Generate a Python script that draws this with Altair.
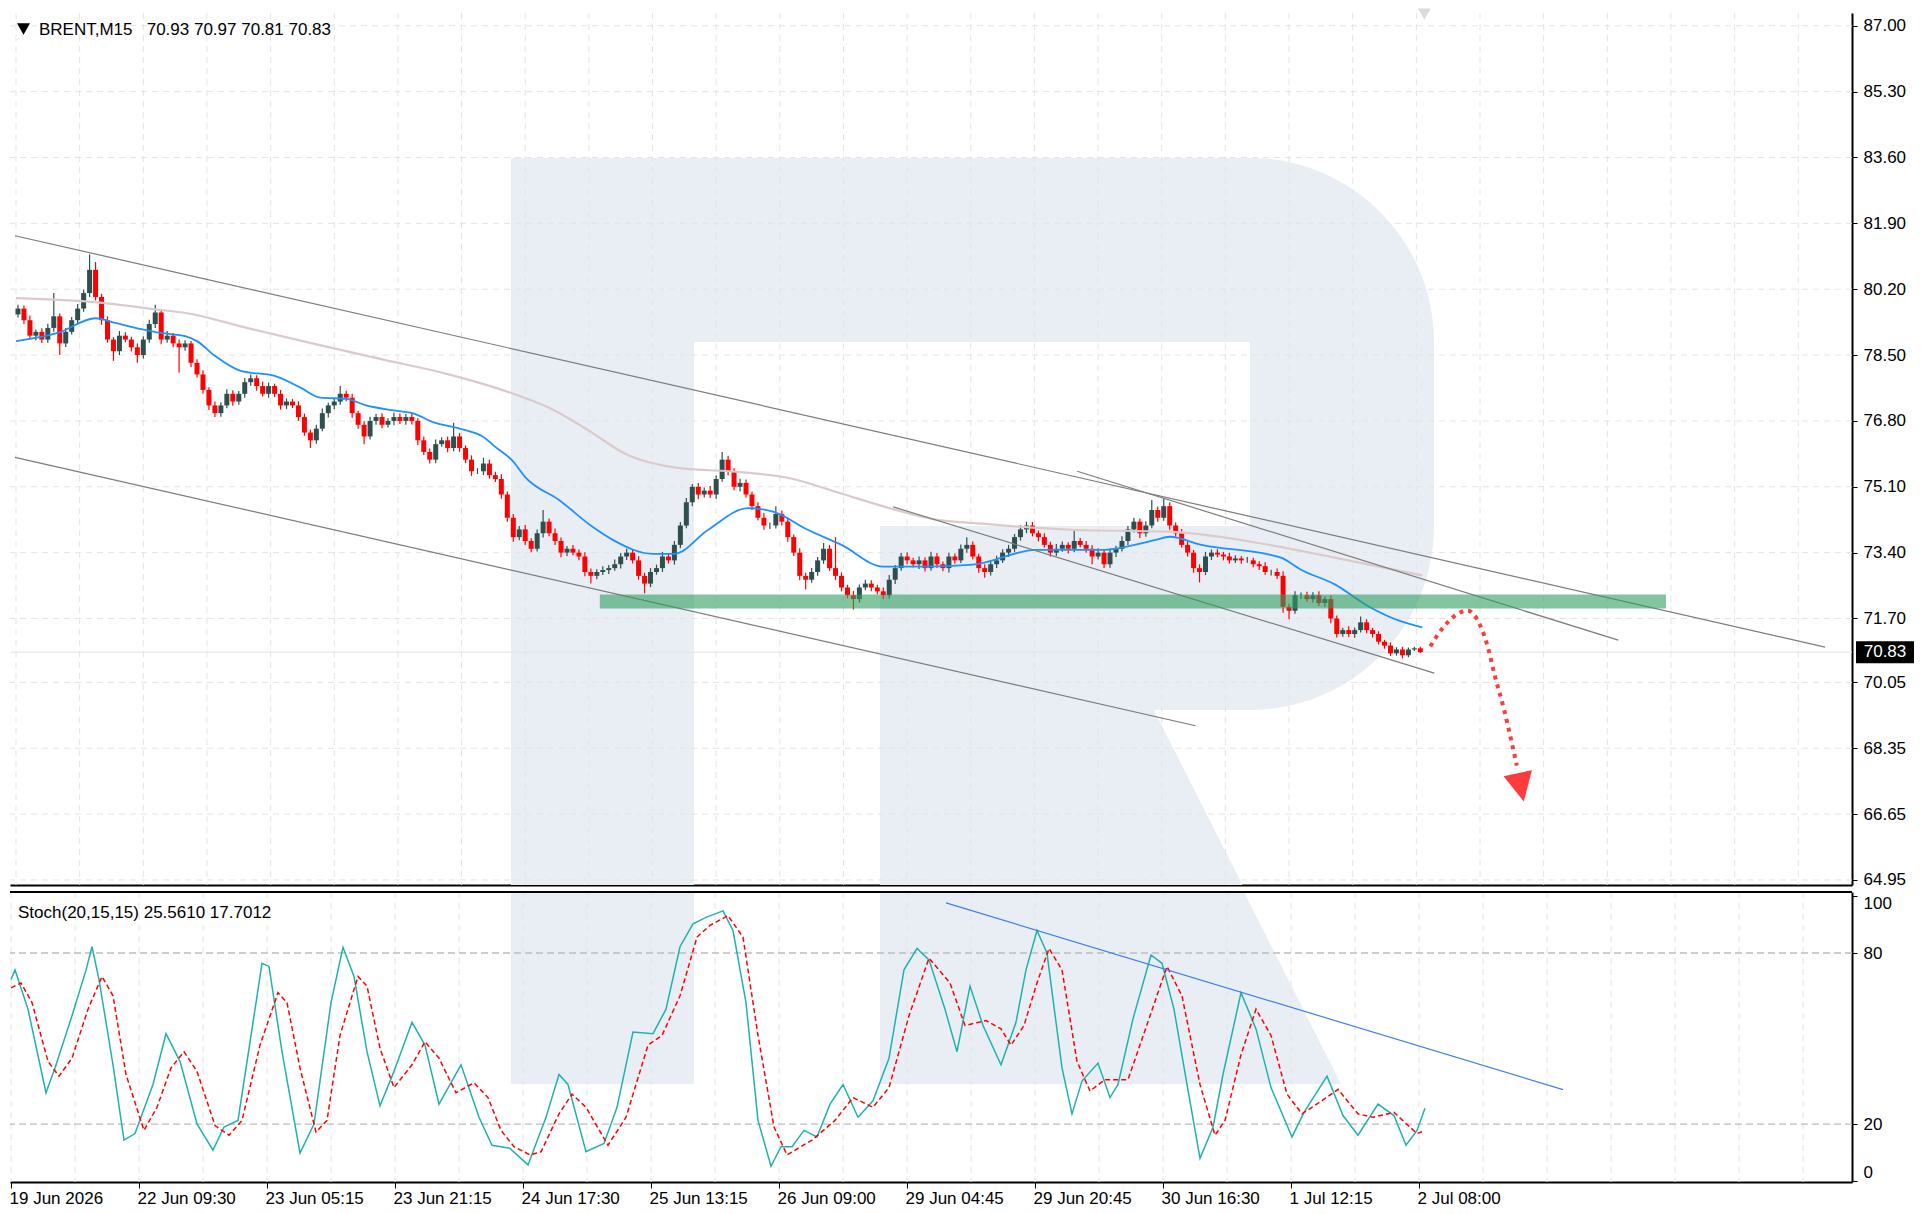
import json
import altair as alt
import pandas as pd

# ------------------------------------------------------------------ data
title_text = "BRENT,M15\u00a0\u00a0 70.93 70.97 70.81 70.83"
stoch_text = "Stoch(20,15,15) 25.5610 17.7012"

bars_per_candle = 3
first_open = 79.55
closes = [
    79.70, 79.40, 79.00, 79.10, 78.90, 79.20, 79.50, 78.80, 79.10, 79.40, 79.70, 80.10,
    80.70, 80.00, 79.40, 78.90, 78.60, 79.00, 78.90, 78.70, 78.50, 78.90, 79.30, 79.60,
    78.90, 79.00, 78.80, 78.70, 78.80, 78.30, 78.00, 77.60, 77.20, 77.00, 77.20, 77.50,
    77.30, 77.50, 77.80, 77.90, 77.70, 77.50, 77.70, 77.50, 77.20, 77.30, 77.20, 76.90,
    76.50, 76.30, 76.60, 77.00, 77.20, 77.30, 77.50, 77.40, 77.00, 76.70, 76.40, 76.80,
    76.90, 76.70, 76.80, 76.90, 76.80, 76.90, 76.80, 76.30, 76.00, 75.80, 76.20, 76.30,
    76.10, 76.40, 76.10, 75.80, 75.50, 75.50, 75.70, 75.40, 75.30, 74.90, 74.30, 73.80,
    74.00, 73.70, 73.50, 73.90, 74.20, 73.90, 73.70, 73.40, 73.50, 73.40, 73.30, 72.90,
    72.80, 72.90, 72.95, 73.00, 73.10, 73.30, 73.40, 73.20, 72.80, 72.60, 72.90, 73.00,
    73.30, 73.20, 73.60, 74.10, 74.70, 75.10, 74.90, 75.00, 74.90, 75.30, 75.80, 75.50,
    75.10, 75.20, 74.90, 74.60, 74.30, 74.10, 74.10, 74.40, 74.20, 73.80, 73.40, 72.80,
    72.70, 72.90, 73.20, 73.50, 73.00, 72.80, 72.50, 72.30, 72.20, 72.50, 72.60, 72.50,
    72.40, 72.30, 72.70, 73.00, 73.30, 73.20, 73.10, 73.20, 73.00, 73.30, 73.10, 73.00,
    73.30, 73.20, 73.50, 73.60, 73.30, 73.00, 72.90, 73.10, 73.20, 73.40, 73.50, 73.80,
    74.00, 74.10, 73.90, 73.80, 73.60, 73.40, 73.50, 73.60, 73.50, 73.70, 73.60, 73.50,
    73.30, 73.40, 73.10, 73.40, 73.50, 73.70, 74.00, 74.20, 73.90, 74.10, 74.50, 74.30,
    74.60, 74.10, 73.90, 73.60, 73.40, 73.00, 72.90, 73.30, 73.40, 73.35, 73.30, 73.20,
    73.25, 73.20, 73.20, 73.10, 73.05, 72.90, 72.90, 72.80, 72.00, 71.90, 72.30, 72.30,
    72.20, 72.30, 72.10, 72.20, 71.70, 71.30, 71.40, 71.30, 71.40, 71.60, 71.40, 71.30,
    71.10, 71.00, 70.80, 70.90, 70.75, 70.90, 70.93, 70.83,
]
# upper / lower wick length beyond the body, in cents
wick_up = [
    10, 8, 12, 6, 9, 11, 60, 7, 10, 8, 12, 9,
    40, 20, 8, 10, 6, 12, 9, 7, 10, 8, 11, 20,
    9, 12, 7, 10, 8, 6, 9, 11, 7, 10, 8, 12,
    9, 7, 11, 10, 8, 12, 9, 6, 10, 8, 7, 11,
    9, 8, 10, 12, 7, 9, 20, 8, 10, 6, 9, 11,
    8, 10, 7, 12, 9, 8, 11, 7, 10, 9, 12, 8,
    10, 35, 9, 7, 11, 8, 15, 10, 9, 12, 8, 10,
    9, 11, 7, 10, 30, 8, 12, 9, 7, 10, 8, 11,
    9, 7, 10, 8, 12, 9, 10, 7, 11, 8, 10, 9,
    12, 8, 10, 9, 11, 7, 10, 8, 12, 9, 20, 10,
    8, 11, 9, 7, 10, 12, 8, 20, 9, 10, 7, 11,
    8, 10, 9, 15, 10, 80, 9, 7, 11, 8, 10, 9,
    7, 10, 12, 8, 9, 11, 7, 10, 8, 12, 9, 7,
    10, 8, 11, 20, 9, 7, 10, 8, 12, 9, 10, 8,
    11, 10, 9, 7, 10, 8, 12, 9, 7, 30, 8, 10,
    9, 11, 7, 10, 8, 12, 9, 10, 8, 11, 26, 9,
    20, 10, 8, 11, 9, 7, 10, 12, 8, 9, 7, 10,
    8, 6, 9, 7, 8, 10, 6, 9, 12, 8, 10, 7,
    9, 8, 10, 7, 9, 8, 6, 10, 7, 15, 8, 6,
    7, 5, 8, 6, 7, 5, 4, 4,
]
wick_dn = [
    8, 10, 7, 12, 9, 8, 10, 30, 9, 7, 11, 8,
    10, 9, 12, 8, 25, 10, 7, 11, 20, 9, 8, 10,
    12, 8, 10, 65, 9, 11, 8, 10, 12, 10, 9, 7,
    11, 8, 10, 9, 12, 7, 10, 8, 11, 9, 7, 10,
    8, 20, 9, 7, 11, 10, 8, 9, 12, 10, 20, 8,
    10, 9, 7, 11, 8, 10, 9, 12, 8, 10, 9, 7,
    11, 8, 10, 9, 12, 7, 10, 9, 8, 11, 10, 12,
    8, 10, 9, 7, 11, 8, 10, 12, 9, 7, 10, 11,
    20, 9, 8, 10, 7, 11, 9, 8, 10, 25, 9, 7,
    10, 8, 11, 9, 7, 10, 12, 8, 9, 11, 7, 10,
    9, 12, 8, 10, 7, 11, 9, 8, 10, 12, 9, 11,
    25, 8, 10, 9, 7, 11, 10, 8, 27, 9, 7, 10,
    8, 10, 9, 11, 7, 10, 8, 12, 9, 7, 10, 8,
    11, 9, 7, 10, 8, 12, 15, 9, 10, 7, 11, 8,
    9, 10, 8, 11, 7, 10, 9, 8, 12, 9, 7, 10,
    20, 8, 10, 9, 11, 7, 10, 8, 12, 9, 7, 10,
    8, 11, 9, 7, 10, 12, 27, 8, 9, 7, 10, 8,
    7, 9, 6, 8, 10, 7, 9, 8, 15, 22, 8, 10,
    7, 9, 8, 10, 12, 9, 7, 8, 10, 6, 8, 9,
    7, 8, 7, 6, 8, 5, 4, 2,
]

ma_fast_bar = [0, 21, 40, 50, 63, 73, 85, 91, 100, 113, 130, 143, 153, 166, 176, 190,
               200, 210, 223, 236, 240, 250, 256, 273, 290, 300, 320, 331, 348, 368, 381,
               398, 415, 436, 456, 481, 513, 546, 573, 580, 596, 630, 636, 646, 663, 680,
               696, 707]
ma_fast_val = [78.86, 79.07, 79.45, 79.33, 79.17, 79.07, 78.99, 78.86, 78.48, 78.09, 77.96,
               77.66, 77.40, 77.37, 77.20, 77.07, 76.99, 76.76, 76.60, 76.35, 76.17, 75.75,
               75.35, 74.76, 74.06, 73.73, 73.37, 73.37, 73.99, 74.55, 74.45, 73.99, 73.60,
               73.04, 73.04, 73.09, 73.47, 73.47, 73.73, 73.81, 73.60, 73.35, 73.27, 72.96,
               72.58, 72.01, 71.63, 71.47]
ma_slow_bar = [0, 41, 70, 86, 116, 150, 183, 216, 250, 270, 288, 306, 334, 364, 389, 414,
               439, 464, 480, 530, 580, 630, 663, 707]
ma_slow_val = [79.97, 79.86, 79.68, 79.58, 79.20, 78.79, 78.40, 78.02, 77.50, 77.09, 76.55,
               75.96, 75.58, 75.48, 75.32, 74.94, 74.55, 74.24, 74.17, 73.99, 73.94, 73.60,
               73.27, 72.81]

stoch_k_bar = [0, 2, 8.5, 17.5, 22, 30.5, 37.5, 40.5, 44, 51, 56.5, 62, 71, 77.5, 84.5, 93,
               101, 106.5, 113.5, 120, 125.5, 129, 135.5, 144.5, 151.5, 160, 166, 171.5, 178,
               184.5, 191.5, 200.5, 207, 214, 225, 234, 240.5, 249.5, 258.5, 267.5, 274,
               278.5, 287.5, 296.5, 303, 311, 321, 327.5, 334.5, 341, 347.5, 356, 361, 367.5,
               373.5, 380, 385, 390.5, 396.5, 403, 409.5, 416, 423.5, 431, 439, 446.5, 453,
               459, 467, 473, 479.5, 486, 495, 502.5, 507.5, 513, 518, 525.5, 530.5, 535.5,
               543.5, 549.5, 553.5, 561, 570, 575.5, 581.5, 588, 594.5, 601, 606, 615, 622.5,
               630, 640.5, 646.5, 658, 666, 673.5, 683.5, 691.5, 697.5, 703, 707]
stoch_k_val = [70.7, 74.1, 60.3, 31.0, 39.7, 58.0, 74.0, 82.2, 70.7, 40.8, 14.4, 16.7, 33.9,
               51.7, 42.0, 20.1, 10.9, 19.0, 21.3, 51.0, 76.4, 75.3, 45.4, 9.8, 20.0, 62.6,
               82.0, 71.8, 45.4, 26.4, 38.5, 55.7, 47.7, 27.0, 40.8, 22.4, 12.6, 11.5, 5.7,
               22.4, 37.4, 33.9, 10.3, 13.2, 25.9, 52.3, 51.7, 60.3, 82.2, 90.2, 92.5, 94.8,
               87.9, 62.6, 21.3, 5.2, 12.1, 12.1, 17.8, 15.5, 27.0, 33.9, 22.4, 28.2, 43.1,
               74.1, 81.6, 77.6, 60.3, 45.4, 68.4, 54.6, 40.8, 55.7, 74.1, 87.9, 79.9, 39.7,
               23.6, 35.1, 41.4, 29.3, 33.9, 56.9, 79.3, 76.4, 60.3, 33.9, 8.0, 18.9, 37.4,
               66.1, 53.4, 32.8, 15.5, 24.1, 36.8, 23.0, 16.1, 27.0, 23.0, 12.6, 17.8, 25.56]
stoch_d_bar = [0, 5, 10.5, 18.5, 24, 30.5, 38.5, 45.5, 51, 57.5, 66.5, 73, 80, 86.5, 93, 102,
               109, 115.5, 124.5, 133.5, 138, 144.5, 152.5, 158, 164.5, 173.5, 178, 184.5,
               191.5, 200.5, 207, 214, 222.5, 231.5, 238.5, 245, 251.5, 259.5, 265, 274,
               280.5, 287.5, 298.5, 307.5, 318.5, 325.5, 334.5, 343, 349.5, 358.5, 366,
               373.5, 381.5, 388, 400.5, 412, 421, 431, 439, 449, 459, 469.5, 477, 487.5,
               495, 500, 506.5, 513, 519, 525.5, 533, 539.5, 547, 558.5, 569, 578, 585.5,
               594.5, 602, 607, 615, 622.5, 630, 638, 645.5, 655.5, 663.5, 673.5, 681, 691.5,
               703, 707]
stoch_d_val = [67.8, 69.5, 62.6, 42.0, 36.8, 43.1, 60.3, 71.8, 65.0, 37.4, 17.8, 25.9, 39.7,
               45.4, 38.5, 19.5, 16.1, 21.3, 47.7, 66.1, 62.6, 39.7, 17.2, 21.3, 51.1, 71.8,
               68.4, 46.6, 32.8, 40.8, 48.9, 43.1, 31.0, 34.5, 29.3, 17.8, 12.1, 9.2, 10.3,
               23.6, 30.5, 25.9, 12.6, 22.4, 47.7, 51.1, 65.0, 85.6, 89.7, 93.1, 85.6, 51.1,
               19.0, 9.2, 14.4, 21.3, 29.3, 25.9, 32.8, 58.0, 78.2, 69.5, 54.6, 56.3, 53.4,
               47.7, 54.6, 69.5, 81.6, 74.1, 42.0, 31.6, 35.6, 35.6, 56.9, 75.3, 64.9, 33.9,
               16.1, 21.3, 44.3, 60.3, 51.1, 30.5, 23.6, 28.2, 32.2, 23.6, 22.4, 24.1, 16.7,
               17.70]

# trend lines (start bar, start price, end bar, end price)
trend_b1 = [-0.5, -0.5, 441, 533.5]
trend_p1 = [81.58, 75.86, 74.58, 75.50]
trend_b2 = [909.5, 593, 713, 805.5]
trend_p2 = [70.96, 68.93, 70.29, 71.14]

# green resistance zone
zone_bar = [293.5, 829.5]
zone_price = [71.96, 72.32]

# forecast path
fc_bar = [711, 718, 724.5, 729.5, 734.5, 739.5, 743.5, 748, 751.5, 754.5]
fc_price = [70.98, 71.50, 71.81, 71.91, 71.68, 71.04, 70.21, 69.37, 68.60, 67.90]
fc_head_bar = [756.5]
fc_head_price = [67.34]

# stochastic trend line
st_trend_bar = [467.5, 776]
st_trend_val = [97.6, 32.1]

price_ticks = [87.00, 85.30, 83.60, 81.90, 80.20, 78.50, 76.80, 75.10, 73.40, 71.70,
               70.05, 68.35, 66.65, 64.95]
stoch_ticks = [0, 20, 80, 100]
stoch_levels = [20, 80]
time_labels = ["19 Jun 2026", "22 Jun 09:30", "23 Jun 05:15", "23 Jun 21:15",
               "24 Jun 17:30", "25 Jun 13:15", "26 Jun 09:00", "29 Jun 04:45",
               "29 Jun 20:45", "30 Jun 16:30", "1 Jul 12:15", "2 Jul 08:00"]
label_step = 64
grid_step = 32
total_bars = 921

# ------------------------------------------------------------------ layout / style
W = 1842
H1 = 872
H2 = 290
GAP = 3
FONT = "Liberation Sans"
BULL = "#2f4f4f"
BEAR = "#ff0000"
GRID = "#e4e4e4"
WM = "#e9eef5"
ARROW = "#ff3b3b"

# watermark logo "R" (pixel path, scale 1 with size=4)
R_PATH = ("M501,145 H1240 A184,184 0 0 1 1424,329 V513 A184,184 0 0 1 1240,697 "
          "H1144 L1331,1067 H870 V513 H684 V1067 H501 Z "
          "M684,329 V513 H1240 V329 Z")
BOX_PATH = "M-29,-11 H29 V11 H-29 Z"
HEAD_PATH = "M-1,-1 L1,-1 L0,1 Z"

# ------------------------------------------------------------------ frames
n = len(closes)
opens = [first_open] + closes[:-1]
candles = pd.DataFrame({
    "bar": [bars_per_candle * k + 1 for k in range(n)],
    "open": opens,
    "close": closes,
    "high": [max(o, c) + u / 100 for o, c, u in zip(opens, closes, wick_up)],
    "low": [min(o, c) - d / 100 for o, c, d in zip(opens, closes, wick_dn)],
})
candles["dir"] = ["up" if c >= o else "down" for o, c in zip(opens, closes)]

grid_bars = list(range(0, total_bars, grid_step))
label_bars = [i * label_step for i in range(len(time_labels))]

xs = alt.Scale(domain=[-0.5, total_bars - 0.5], nice=False, zero=False)
ys = alt.Scale(domain=[64.82, 87.33], nice=False, zero=False)
ss = alt.Scale(domain=[-0.3, 101.4], nice=False, zero=False)

ax_x_main = alt.Axis(labels=False, ticks=False, grid=False, domainColor="black",
                     domainWidth=2, title=None)
ax_y_main = alt.Axis(orient="right", values=price_ticks, format=".2f", grid=False,
                     domainColor="black", domainWidth=2, tickColor="black", tickSize=5,
                     labelPadding=6, title=None)
ax_x_st = alt.Axis(values=label_bars,
                   labelExpr=json.dumps(time_labels) + "[round(datum.value / %d)]" % label_step,
                   labelAlign="left", labelFlush=False, labelOffset=-2, labelOverlap=False,
                   grid=False, domainColor="black", domainWidth=2, tickColor="black",
                   tickSize=6, labelPadding=2, title=None)
ax_y_st = alt.Axis(orient="right", values=stoch_ticks, grid=False, labelFlush=10,
                   domainColor="black", domainWidth=2, tickColor="black", tickSize=5,
                   labelPadding=6, title=None)


def mx(f):
    return alt.X(f, type="quantitative", scale=xs, axis=ax_x_main)


def my(f):
    return alt.Y(f, type="quantitative", scale=ys, axis=ax_y_main)


def sx(f):
    return alt.X(f, type="quantitative", scale=xs, axis=ax_x_st)


def sy(f):
    return alt.Y(f, type="quantitative", scale=ss, axis=ax_y_st)


one = pd.DataFrame({"a": [0]})
cscale = alt.Scale(domain=["up", "down"], range=[BULL, BEAR])

# ------------------------------------------------------------------ main panel
wm_main = alt.Chart(one).mark_point(shape=R_PATH, size=4, filled=True, color=WM,
                                    opacity=1, strokeWidth=0, clip=True).encode(
    x=alt.value(0), y=alt.value(0))

vgrid = alt.Chart(pd.DataFrame({"bar": grid_bars})).mark_rule(
    color=GRID, strokeDash=[6, 5], strokeWidth=1).encode(x=mx("bar"))
hgrid = alt.Chart(pd.DataFrame({"p": price_ticks})).mark_rule(
    color=GRID, strokeDash=[6, 5], strokeWidth=1).encode(y=my("p"))

bid = alt.Chart(pd.DataFrame({"p": [closes[-1]]})).mark_rule(
    color="#e2e2e2", strokeWidth=1).encode(y=my("p"))

wicks = alt.Chart(candles).mark_rule(strokeWidth=1.2).encode(
    x=mx("bar"), y=my("low"), y2="high",
    color=alt.Color("dir:N", scale=cscale, legend=None))
bodies = alt.Chart(candles).mark_bar(size=5).encode(
    x=mx("bar"), y=my("open"), y2="close",
    color=alt.Color("dir:N", scale=cscale, legend=None))

ma_slow = alt.Chart(pd.DataFrame({"bar": ma_slow_bar, "v": ma_slow_val})).mark_line(
    color="#dccaca", strokeWidth=2.2, interpolate="monotone").encode(x=mx("bar"), y=my("v"))
ma_fast = alt.Chart(pd.DataFrame({"bar": ma_fast_bar, "v": ma_fast_val})).mark_line(
    color="#1e90ff", strokeWidth=1.8, interpolate="monotone").encode(x=mx("bar"), y=my("v"))

trends = alt.Chart(pd.DataFrame({"b1": trend_b1, "p1": trend_p1, "b2": trend_b2,
                                 "p2": trend_p2})).mark_rule(
    color="#7c7c7c", strokeWidth=1.2).encode(x=mx("b1"), y=my("p1"), x2="b2", y2="p2")

zone = alt.Chart(pd.DataFrame({"b1": [zone_bar[0]], "b2": [zone_bar[1]],
                               "p1": [zone_price[0]], "p2": [zone_price[1]]})).mark_rect(
    color="#2e9e5e", opacity=0.6).encode(x=mx("b1"), x2="b2", y=my("p1"), y2="p2")

forecast = alt.Chart(pd.DataFrame({"bar": fc_bar, "p": fc_price})).mark_line(
    color=ARROW, strokeWidth=4, strokeDash=[4, 5], interpolate="monotone").encode(
    x=mx("bar"), y=my("p"))
head = alt.Chart(pd.DataFrame({"bar": fc_head_bar, "p": fc_head_price})).mark_point(
    shape=HEAD_PATH, size=841, filled=True, color=ARROW, opacity=1, strokeWidth=0,
    angle=348).encode(x=mx("bar"), y=my("p"))

shift_marker = alt.Chart(pd.DataFrame({"bar": [len(closes) * bars_per_candle]})).mark_point(
    shape="triangle-down", size=160, filled=True, color="#dadada", opacity=1,
    strokeWidth=0).encode(x=mx("bar"), y=alt.value(1))

title_tri = alt.Chart(one).mark_point(shape="triangle-down", size=169, filled=True,
                                      color="black", opacity=1, strokeWidth=0).encode(
    x=alt.value(13.5), y=alt.value(16))
title = alt.Chart(pd.DataFrame({"t": [title_text]})).mark_text(
    align="left", baseline="alphabetic", font=FONT, fontSize=17, color="black").encode(
    x=alt.value(29), y=alt.value(22), text="t:N")

price_box = alt.Chart(pd.DataFrame({"p": [closes[-1]]})).mark_point(
    shape=BOX_PATH, size=4, filled=True, color="black", opacity=1, strokeWidth=0).encode(
    x=alt.value(W + 33), y=my("p"))
price_txt = alt.Chart(pd.DataFrame({"p": [closes[-1]], "t": ["%.2f" % closes[-1]]})).mark_text(
    align="center", baseline="middle", font=FONT, fontSize=17, color="white").encode(
    x=alt.value(W + 33), y=my("p"), text="t:N")

main = alt.layer(
    wm_main, vgrid, hgrid, bid, wicks, bodies, ma_slow, ma_fast, trends, zone,
    forecast, head, shift_marker, title_tri, title, price_box, price_txt,
).properties(width=W, height=H1)

# ------------------------------------------------------------------ stochastic panel
wm_st = alt.Chart(one).mark_point(shape=R_PATH, size=4, filled=True, color=WM,
                                  opacity=1, strokeWidth=0, clip=True).encode(
    x=alt.value(0), y=alt.value(-(H1 + GAP)))
vgrid_st = alt.Chart(pd.DataFrame({"bar": grid_bars})).mark_rule(
    color=GRID, strokeDash=[6, 5], strokeWidth=1).encode(x=sx("bar"))
levels = alt.Chart(pd.DataFrame({"v": stoch_levels})).mark_rule(
    color="#bdbdbd", strokeDash=[7, 4], strokeWidth=1.3).encode(y=sy("v"))
k_line = alt.Chart(pd.DataFrame({"bar": stoch_k_bar, "v": stoch_k_val})).mark_line(
    color="#20b2aa", strokeWidth=1.5).encode(x=sx("bar"), y=sy("v"))
d_line = alt.Chart(pd.DataFrame({"bar": stoch_d_bar, "v": stoch_d_val})).mark_line(
    color="#ff0000", strokeWidth=1.5, strokeDash=[5, 3]).encode(x=sx("bar"), y=sy("v"))
st_trend = alt.Chart(pd.DataFrame({"b1": [st_trend_bar[0]], "b2": [st_trend_bar[1]],
                                   "v1": [st_trend_val[0]], "v2": [st_trend_val[1]]})).mark_rule(
    color="#3f7fe8", strokeWidth=1.2).encode(x=sx("b1"), y=sy("v1"), x2="b2", y2="v2")
top_border = alt.Chart(one).mark_rule(color="black", strokeWidth=2).encode(
    x=alt.value(0), x2=alt.value(W), y=alt.value(0))
st_title = alt.Chart(pd.DataFrame({"t": [stoch_text]})).mark_text(
    align="left", baseline="alphabetic", font=FONT, fontSize=17, color="black").encode(
    x=alt.value(8), y=alt.value(26), text="t:N")

stoch = alt.layer(
    wm_st, vgrid_st, levels, k_line, d_line, st_trend, top_border, st_title,
).properties(width=W, height=H2)

chart = alt.vconcat(main, stoch, spacing=GAP).resolve_scale(
    x="independent", y="independent"
).configure_view(stroke=None).configure_axis(
    labelFont=FONT, labelFontSize=17, labelColor="black"
).properties(padding=0, background="white")

chart.save("out.html", embed_options={"renderer": "svg", "actions": False})
